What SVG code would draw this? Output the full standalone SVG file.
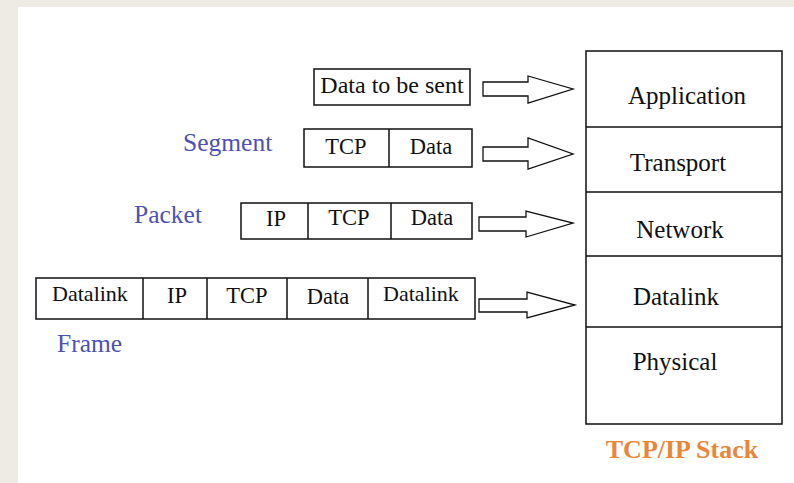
<svg xmlns="http://www.w3.org/2000/svg" width="794" height="483" viewBox="0 0 794 483">
<style>
.box{fill:#fff;stroke:#111;stroke-width:1.5}
.div{stroke:#111;stroke-width:1.5}
.t{font-family:"Liberation Serif","Times New Roman",serif;fill:#111;text-anchor:middle}
.cell{font-size:22.5px}
.layer{font-size:25px}
.lbl{font-family:"Liberation Serif","Times New Roman",serif;fill:#4d52b3;font-size:25.5px}
.arr{fill:#fff;stroke:#111;stroke-width:1.3}
</style>
<rect x="0" y="0" width="794" height="483" fill="#eeebe4"/>
<rect x="18" y="7" width="776" height="476" fill="#fff"/>

<g id="stack">
<rect class="box" x="586" y="51" width="196" height="373"/>
<line class="div" x1="586" y1="127" x2="782" y2="127"/>
<line class="div" x1="586" y1="192" x2="782" y2="192"/>
<line class="div" x1="586" y1="256" x2="782" y2="256"/>
<line class="div" x1="586" y1="327" x2="782" y2="327"/>
<text class="t layer" x="687" y="104">Application</text>
<text class="t layer" x="678" y="171">Transport</text>
<text class="t layer" x="680" y="238">Network</text>
<text class="t layer" x="676" y="305">Datalink</text>
<text class="t layer" x="675" y="370">Physical</text>
<text x="682" y="458" text-anchor="middle" font-family="'Liberation Serif','Times New Roman',serif" font-weight="bold" font-size="26" fill="#e8873a">TCP/IP Stack</text>
</g>

<g id="data">
<rect class="box" x="314" y="69" width="156" height="36"/>
<text class="t" x="392" y="93" font-size="24">Data to be sent</text>
</g>

<g id="segment">
<text class="lbl" x="183" y="151">Segment</text>
<rect class="box" x="304" y="129" width="168" height="38"/>
<line class="div" x1="389" y1="129" x2="389" y2="167"/>
<text class="t cell" x="346" y="154">TCP</text>
<text class="t cell" x="431" y="154">Data</text>
</g>

<g id="packet">
<text class="lbl" x="134" y="223">Packet</text>
<rect class="box" x="241" y="203" width="231" height="36"/>
<line class="div" x1="308" y1="203" x2="308" y2="239"/>
<line class="div" x1="391" y1="203" x2="391" y2="239"/>
<text class="t cell" x="276" y="226">IP</text>
<text class="t cell" x="349" y="225">TCP</text>
<text class="t cell" x="432" y="225">Data</text>
</g>

<g id="frame">
<text class="lbl" x="57" y="352">Frame</text>
<rect class="box" x="36" y="278" width="439" height="41"/>
<line class="div" x1="143" y1="278" x2="143" y2="319"/>
<line class="div" x1="207" y1="278" x2="207" y2="319"/>
<line class="div" x1="287" y1="278" x2="287" y2="319"/>
<line class="div" x1="368" y1="278" x2="368" y2="319"/>
<text class="t" font-size="22" x="90" y="301">Datalink</text>
<text class="t cell" x="177" y="303">IP</text>
<text class="t cell" x="247" y="303">TCP</text>
<text class="t cell" x="328" y="304">Data</text>
<text class="t" font-size="22" x="421" y="301">Datalink</text>
</g>

<g id="connectors">
<polygon class="arr" points="483,82 528,82 528,76 573,89 528,103 528,96 483,96"/>
<polygon class="arr" points="483,147 528,147 528,138 573,154 528,169 528,161 483,161"/>
<polygon class="arr" points="479,217 526,217 526,211 573,223 526,237 526,231 479,231"/>
<polygon class="arr" points="479,299 527,299 527,292 575,305 527,318 527,312 479,312"/>
</g>
</svg>
